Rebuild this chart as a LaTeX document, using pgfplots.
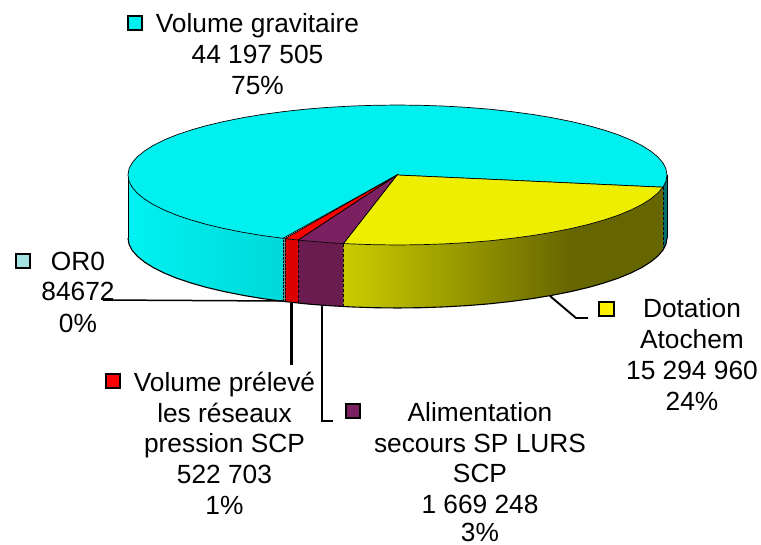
\documentclass[border=0pt]{standalone}
\usepackage{fontspec}
\setmainfont{Liberation Sans}
\usepackage{pgfplots}
\pgfplotsset{compat=1.18}
\definecolor{cyantop}{HTML}{00F0F0}
\definecolor{cyanL}{HTML}{00F2F2}
\definecolor{cyanR}{HTML}{00D8D8}
\definecolor{yeltop}{HTML}{EEEE00}
\definecolor{yelL}{HTML}{CCCC00}
\definecolor{yelR}{HTML}{666600}
\definecolor{purtop}{HTML}{7B2060}
\definecolor{purside}{HTML}{6A1C50}
\definecolor{redtop}{HTML}{FF0000}
\definecolor{redside}{HTML}{DC0000}
\definecolor{teal2}{HTML}{006E70}
\definecolor{greyside}{HTML}{5C9A9A}
\definecolor{orokey}{HTML}{A6E3E3}
\begin{document}
\begin{tikzpicture}
\begin{axis}[
  scale only axis, width=761pt, height=544pt,
  xmin=0, xmax=761, ymin=0, ymax=544, y dir=reverse,
  hide axis, clip=false,
  every axis plot/.append style={mark=none, forget plot},
]
% --- side faces ---
\addplot[fill=teal2, draw=none] coordinates {(667,175)(666,181.1)(662.9,187.2)(662.9,250.2)(666,244.1)(667,238)} -- cycle;
\addplot[fill=yelR, draw=none] coordinates {(662.9,187.2)(657.8,193.1)(650.7,198.9)(641.7,204.6)(630.9,210)(618.3,215.2)(603.9,220)(588.1,224.5)(570.7,228.6)(570.7,291.6)(588.1,287.5)(603.9,283)(618.3,278.2)(630.9,273)(641.7,267.6)(650.7,261.9)(657.8,256.1)(662.9,250.2)} -- cycle;
\addplot[left color=yelL, right color=yelR, draw=none] coordinates {(571.2,228.6)(552.1,232.3)(532.3,235.6)(511.4,238.4)(489.7,240.8)(467.2,242.6)(444.3,243.9)(421,244.7)(397.5,245)(374,244.7)(350.7,243.9)(343.4,243.6)(343.4,306.6)(350.7,306.9)(374,307.7)(397.5,308)(421,307.7)(444.3,306.9)(467.2,305.6)(489.7,303.8)(511.4,301.4)(532.3,298.6)(552.1,295.3)(571.2,291.6)} -- cycle;
\addplot[fill=purside, draw=none] coordinates {(298,240)(305.3,240.8)(327.8,242.6)(343.4,243.6)(343.4,306.6)(327.8,305.6)(305.3,303.8)(298,303)} -- cycle;
\addplot[fill=redside, draw=none] coordinates {(285,238.6)(298,240)(298,303)(285,301.6)} -- cycle;
\addplot[fill=greyside, draw=none] coordinates {(283,238.3)(285,238.6)(285,301.6)(283,301.3)} -- cycle;
\addplot[left color=cyanL, right color=cyanR, draw=none] coordinates {(283,238.3)(262.7,235.6)(242.9,232.3)(224.3,228.6)(206.9,224.5)(191.1,220)(176.7,215.2)(164.1,210)(153.3,204.6)(144.3,198.9)(137.2,193.1)(132.1,187.2)(129,181.1)(128,175)(128,238)(129,244.1)(132.1,250.2)(137.2,256.1)(144.3,261.9)(153.3,267.6)(164.1,273)(176.7,278.2)(191.1,283)(206.9,287.5)(224.3,291.6)(242.9,295.3)(262.7,298.6)(283,301.3)} -- cycle;
% --- side edges ---
\addplot[black, line width=0.6pt] coordinates {(128,175)(128,238)};
\addplot[black, line width=0.6pt] coordinates {(667,175)(667,238)};
\addplot[black, line width=0.5pt, densely dashed] coordinates {(662.9,187.2)(662.9,250.2)};
\addplot[black, line width=0.5pt, densely dashed] coordinates {(343.4,243.6)(343.4,306.6)};
\addplot[black, line width=0.5pt, densely dashed] coordinates {(298,240)(298,303)};
\addplot[black, line width=0.4pt, densely dotted] coordinates {(285,238.6)(285,301.6)};
\addplot[black, line width=0.4pt, densely dotted] coordinates {(283,238.3)(283,301.3)};
% --- bottom rim ---
\addplot[black, line width=1.1pt] coordinates {(667,238)(666,244.1)(662.9,250.2)(657.8,256.1)(650.7,261.9)(641.7,267.6)(630.9,273)(618.3,278.2)(603.9,283)(588.1,287.5)(570.7,291.6)(552.1,295.3)(532.3,298.6)(511.4,301.4)(489.7,303.8)(467.2,305.6)(444.3,306.9)(421,307.7)(397.5,308)(374,307.7)(350.7,306.9)(327.8,305.6)(305.3,303.8)(283.6,301.4)(262.7,298.6)(242.9,295.3)(224.3,291.6)(206.9,287.5)(191.1,283)(176.7,278.2)(164.1,273)(153.3,267.6)(144.3,261.9)(137.2,256.1)(132.1,250.2)(129,244.1)(128,238)};
% --- top faces ---
\addplot[fill=cyantop, draw=black, line width=0.7pt] coordinates {(397,175)(283,238.3)(262.7,235.6)(242.9,232.3)(224.3,228.6)(206.9,224.5)(191.1,220)(176.7,215.2)(164.1,210)(153.3,204.6)(144.3,198.9)(137.2,193.1)(132.1,187.2)(129,181.1)(128,175)(129,168.9)(132.1,162.8)(137.2,156.9)(144.3,151.1)(153.3,145.4)(164.1,140)(176.7,134.8)(191.1,130)(206.9,125.5)(224.3,121.4)(242.9,117.7)(262.7,114.4)(283.6,111.6)(305.3,109.2)(327.8,107.4)(350.7,106.1)(374,105.3)(397.5,105)(421,105.3)(444.3,106.1)(467.2,107.4)(489.7,109.2)(511.4,111.6)(532.3,114.4)(552.1,117.7)(570.7,121.4)(588.1,125.5)(603.9,130)(618.3,134.8)(630.9,140)(641.7,145.4)(650.7,151.1)(657.8,156.9)(662.9,162.8)(666,168.9)(667,175)(666,181.1)(662.9,187.2)} -- cycle;
\addplot[fill=yeltop, draw=black, line width=0.7pt] coordinates {(397,175)(662.9,187.2)(657.8,193.1)(650.7,198.9)(641.7,204.6)(630.9,210)(618.3,215.2)(603.9,220)(588.1,224.5)(570.7,228.6)(552.1,232.3)(532.3,235.6)(511.4,238.4)(489.7,240.8)(467.2,242.6)(444.3,243.9)(421,244.7)(397.5,245)(374,244.7)(350.7,243.9)(343.4,243.6)} -- cycle;
\addplot[fill=purtop, draw=black, line width=0.7pt] coordinates {(397,175)(343.4,243.6)(327.8,242.6)(305.3,240.8)(298,240)} -- cycle;
\addplot[fill=redtop, draw=black, line width=0.7pt] coordinates {(397,175)(298,240)(285,238.6)} -- cycle;
% --- leader lines ---
\addplot[black, line width=1.5pt] coordinates {(103,300)(283,301)};
\addplot[black, line width=2.4pt] coordinates {(291.5,303)(291.5,365)};
\addplot[black, line width=1.9pt] coordinates {(321.8,305)(321.8,421)(333,421)};
\addplot[black, line width=1.9pt] coordinates {(550,296)(576,318)(588,318)};
% --- legend keys ---
\addplot[fill=cyantop, draw=black, line width=1.5pt] coordinates {(128,16)(142,16)(142,30)(128,30)} -- cycle;
\addplot[fill=orokey, draw=black, line width=1.5pt] coordinates {(16,254)(30,254)(30,268)(16,268)} -- cycle;
\addplot[fill=red, draw=black, line width=1.5pt] coordinates {(106,374)(120,374)(120,388)(106,388)} -- cycle;
\addplot[fill=purtop, draw=black, line width=1.5pt] coordinates {(346,404)(360,404)(360,418)(346,418)} -- cycle;
\addplot[fill=yellow, draw=black, line width=1.5pt] coordinates {(599,302)(614,302)(614,316)(599,316)} -- cycle;
% --- labels ---
\tikzset{lab/.style={anchor=base, inner sep=0pt, font=\fontsize{26.3}{30}\selectfont, text=black}}
\node[lab] at (axis cs:257.5,32) {Volume gravitaire};
\node[lab] at (axis cs:257.5,63) {44 197 505};
\node[lab] at (axis cs:257.5,94) {75\%};
\node[lab] at (axis cs:78,270) {OR0};
\node[lab] at (axis cs:78,300) {84672};
\node[lab] at (axis cs:78,332) {0\%};
\node[lab] at (axis cs:224.5,391) {Volume prélevé};
\node[lab] at (axis cs:224.5,422) {les réseaux};
\node[lab] at (axis cs:224.5,452) {pression SCP};
\node[lab] at (axis cs:224.5,483) {522 703};
\node[lab] at (axis cs:224.5,514) {1\%};
\node[lab] at (axis cs:480,421) {Alimentation};
\node[lab] at (axis cs:480,452) {secours SP LURS};
\node[lab] at (axis cs:480,482) {SCP};
\node[lab] at (axis cs:480,513) {1 669 248};
\node[lab] at (axis cs:480,541) {3\%};
\node[lab] at (axis cs:692,317) {Dotation};
\node[lab] at (axis cs:692,348) {Atochem};
\node[lab] at (axis cs:692,379) {15 294 960};
\node[lab] at (axis cs:692,410) {24\%};
\end{axis}
\pgfresetboundingbox
\path (0,0) rectangle (761pt,544pt);
\end{tikzpicture}
\end{document}
